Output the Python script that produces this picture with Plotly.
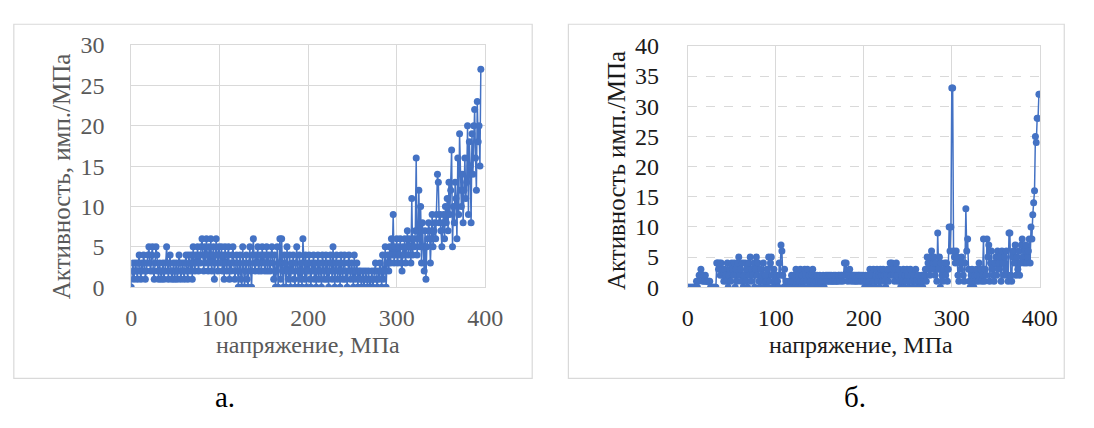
import plotly.graph_objects as go

W, H = 1094, 428

# Panel (а): acoustic emission activity vs stress
activity_a = [
    0, 2, 3, 1, 2, 3, 2, 1, 3, 4, 2, 1, 3, 2, 4, 3, 1, 2, 3, 4,
    5, 3, 2, 4, 5, 2, 1, 3, 5, 4, 2, 1, 3, 2, 1, 2, 3, 1, 2, 3,
    5, 2, 1, 3, 4, 2, 1, 2, 3, 1, 2, 3, 1, 2, 4, 3, 1, 2, 3, 2,
    1, 3, 4, 2, 1, 4, 3, 2, 4, 1, 5, 3, 2, 4, 3, 5, 2, 4, 3, 5,
    6, 4, 2, 5, 3, 6, 4, 2, 5, 3, 6, 2, 4, 5, 1, 3, 6, 4, 2, 5,
    4, 3, 5, 2, 4, 1, 5, 3, 2, 4, 5, 1, 3, 2, 4, 5, 3, 1, 2, 4,
    3, 0, 2, 4, 1, 0, 5, 3, 0, 2, 4, 1, 0, 3, 5, 2, 0, 4, 6, 3,
    2, 4, 3, 5, 2, 3, 4, 2, 5, 3, 4, 2, 3, 5, 2, 4, 3, 2, 4, 5,
    3, 1, 4, 0, 2, 5, 0, 3, 6, 1, 6, 2, 0, 4, 3, 0, 5, 2, 1, 4,
    0, 3, 2, 4, 1, 0, 3, 5, 2, 0, 4, 1, 3, 0, 6, 2, 1, 4, 0, 3,
    2, 4, 1, 0, 3, 2, 4, 1, 3, 0, 2, 4, 1, 3, 2, 0, 4, 3, 1, 2,
    4, 1, 3, 0, 2, 4, 3, 1, 5, 2, 0, 3, 4, 1, 2, 3, 0, 4, 2, 1,
    3, 4, 1, 2, 0, 3, 4, 2, 1, 3, 2, 0, 4, 1, 2, 3, 0, 2, 1, 2,
    0, 1, 2, 0, 1, 2, 1, 0, 2, 1, 0, 1, 2, 0, 1, 2, 3, 1, 0, 2,
    1, 3, 2, 0, 4, 1, 2, 5, 0, 3, 4, 2, 5, 3, 6, 4, 9, 3, 5, 4,
    6, 3, 5, 4, 6, 3, 2, 5, 4, 6, 3, 5, 7, 4, 6, 5, 3, 11, 4, 6,
    5, 7, 16, 4, 6, 12, 5, 10, 3, 8, 5, 2, 7, 1, 5, 6, 8, 7, 3, 6,
    9, 5, 7, 8, 6, 9, 14, 13, 8, 9, 7, 5, 8, 9, 6, 10, 8, 11, 7, 13,
    9, 12, 17, 5, 10, 8, 13, 11, 6, 16, 9, 19, 12, 10, 14, 8, 12, 16, 11, 13,
    20, 9, 18, 15, 8, 19, 14, 20, 22, 16, 12, 23, 18, 20, 15, 27,
]
stress_a = list(range(len(activity_a)))

# Panel (б)
activity_b = [
    0, 0, 0, 0, 0, 0, 0, 0, 0, 0, 1, 0, 1, 2, 2, 3, 2, 1, 2, 1,
    2, 1, 1, 1, 1, 1, 0, 0, 0, 0, 0, 0, 0, 4, 4, 3, 4, 2, 4, 3,
    2, 1, 3, 2, 1, 4, 0, 2, 3, 1, 4, 3, 2, 4, 0, 3, 1, 4, 5, 2,
    3, 1, 4, 0, 2, 4, 1, 3, 0, 4, 2, 5, 1, 3, 2, 4, 0, 3, 5, 2,
    4, 1, 0, 3, 2, 1, 4, 0, 2, 1, 3, 0, 5, 1, 4, 5, 2, 0, 3, 1,
    0, 2, 1, 0, 4, 2, 7, 6, 2, 0, 3, 0, 1, 0, 0, 1, 0, 1, 2, 0,
    1, 2, 0, 3, 1, 0, 2, 1, 3, 0, 2, 1, 0, 3, 2, 1, 3, 0, 2, 1,
    0, 2, 3, 1, 0, 2, 1, 2, 0, 1, 2, 1, 0, 1, 2, 0, 1, 2, 1, 2,
    1, 2, 1, 2, 1, 1, 2, 1, 2, 1, 1, 2, 2, 1, 2, 2, 1, 2, 4, 2,
    4, 2, 1, 2, 3, 2, 1, 2, 2, 1, 2, 1, 2, 1, 2, 2, 1, 2, 1, 2,
    1, 0, 2, 1, 0, 2, 1, 3, 0, 2, 1, 3, 1, 0, 2, 3, 1, 2, 0, 3,
    2, 1, 3, 2, 1, 0, 2, 3, 1, 3, 4, 2, 4, 3, 2, 1, 3, 4, 2, 1,
    3, 1, 0, 2, 1, 3, 0, 2, 1, 3, 2, 0, 1, 3, 2, 1, 0, 2, 1, 3,
    1, 0, 2, 1, 0, 1, 2, 0, 1, 2, 3, 1, 5, 4, 3, 2, 5, 6, 3, 4,
    5, 2, 4, 1, 9, 3, 5, 0, 4, 2, 1, 3, 4, 2, 4, 1, 3, 10, 6, 10,
    33, 33, 6, 5, 4, 6, 5, 2, 1, 4, 3, 5, 4, 2, 1, 4, 13, 6, 8, 3,
    1, 0, 2, 3, 1, 0, 2, 1, 3, 2, 1, 4, 2, 3, 1, 2, 8, 1, 3, 2,
    8, 5, 7, 1, 4, 6, 3, 2, 1, 4, 5, 2, 6, 3, 4, 5, 1, 6, 4, 2,
    5, 3, 6, 2, 1, 9, 9, 2, 1, 5, 6, 4, 7, 2, 5, 3, 6, 2, 4, 7,
    8, 5, 4, 6, 7, 4, 5, 6, 8, 4, 10, 8, 12, 14, 16, 25, 24, 28, 28, 32,
    32,
]
stress_b = list(range(len(activity_b)))

x_ticks = [0, 100, 200, 300, 400]
y_ticks_a = [0, 5, 10, 15, 20, 25, 30]
y_ticks_b = [0, 5, 10, 15, 20, 25, 30, 35, 40]

x_title = "напряжение, МПа"
y_title_a = "Активность, имп./МПа"
y_title_b = "Активность имп./МПа"
panel_labels = ["а.", "б."]

BLUE = "#4472C4"
GRID = "#d9d9d9"
FONT = "Liberation Serif"


def px(x):
    return x / W


def py(y):
    return 1 - y / H


fig = go.Figure()

fig.add_trace(go.Scatter(
    x=stress_a, y=activity_a, mode="lines+markers",
    line=dict(color=BLUE, width=1.5),
    marker=dict(color=BLUE, size=7),
    xaxis="x", yaxis="y", showlegend=False,
))
fig.add_trace(go.Scatter(
    x=stress_b, y=activity_b, mode="lines+markers",
    line=dict(color=BLUE, width=1.5),
    marker=dict(color=BLUE, size=7),
    xaxis="x2", yaxis="y2", showlegend=False,
))

grey_txt = "#595959"
dark_txt = "#1a1a1a"
TICK = 24

axis_common = dict(showline=True, linecolor=GRID, linewidth=1, mirror=True,
                   zeroline=False, ticks="", fixedrange=True)

fig.update_layout(
    width=W, height=H,
    margin=dict(l=0, r=0, t=0, b=0),
    paper_bgcolor="white", plot_bgcolor="white",
    font=dict(family=FONT),
    xaxis=dict(domain=[px(128), px(490)], range=[0, 400], tickvals=x_ticks,
               showgrid=True, gridcolor=GRID, gridwidth=1,
               tickfont=dict(family=FONT, size=TICK, color=grey_txt), ticklabelstandoff=9,
               anchor="y", **axis_common),
    yaxis=dict(domain=[py(292), py(34)], range=[0, 30], tickvals=y_ticks_a,
               showgrid=True, gridcolor=GRID, gridwidth=1,
               tickfont=dict(family=FONT, size=TICK, color=grey_txt), ticklabelstandoff=21,
               anchor="x", **axis_common),
    xaxis2=dict(domain=[px(697), px(1057)], range=[0, 400], tickvals=x_ticks,
                showgrid=True, gridcolor=GRID, gridwidth=1,
                tickfont=dict(family=FONT, size=TICK, color=dark_txt), ticklabelstandoff=9,
                anchor="y2", **axis_common),
    yaxis2=dict(domain=[py(292), py(35)], range=[0, 40], tickvals=y_ticks_b,
                showgrid=True, gridcolor=GRID, gridwidth=1, griddash="dash",
                tickfont=dict(family=FONT, size=TICK, color=dark_txt), ticklabelstandoff=23,
                anchor="x2", **axis_common),
)

# outer chart frames
for x0, x1 in [(8, 538), (575, 1082)]:
    fig.add_shape(type="rect", xref="paper", yref="paper",
                  x0=px(x0), x1=px(x1), y0=py(389), y1=py(12),
                  line=dict(color=GRID, width=1.2), layer="below")

annotations = [
    dict(text=x_title, x=px(309), y=py(354), font=dict(family=FONT, size=24, color=grey_txt)),
    dict(text=x_title, x=px(874), y=py(354), font=dict(family=FONT, size=24, color=dark_txt)),
    dict(text=y_title_a, x=px(57), y=py(174), textangle=-90,
         font=dict(family=FONT, size=25, color=grey_txt)),
    dict(text=y_title_b, x=px(624), y=py(168), textangle=-90,
         font=dict(family=FONT, size=25, color=dark_txt)),
    dict(text=panel_labels[0], x=px(224), y=py(409), font=dict(family=FONT, size=29, color="black")),
    dict(text=panel_labels[1], x=px(868), y=py(409), font=dict(family=FONT, size=29, color="black")),
]
for a in annotations:
    fig.add_annotation(xref="paper", yref="paper", showarrow=False,
                       xanchor="center", yanchor="middle", **a)

fig.write_html("out.html")
